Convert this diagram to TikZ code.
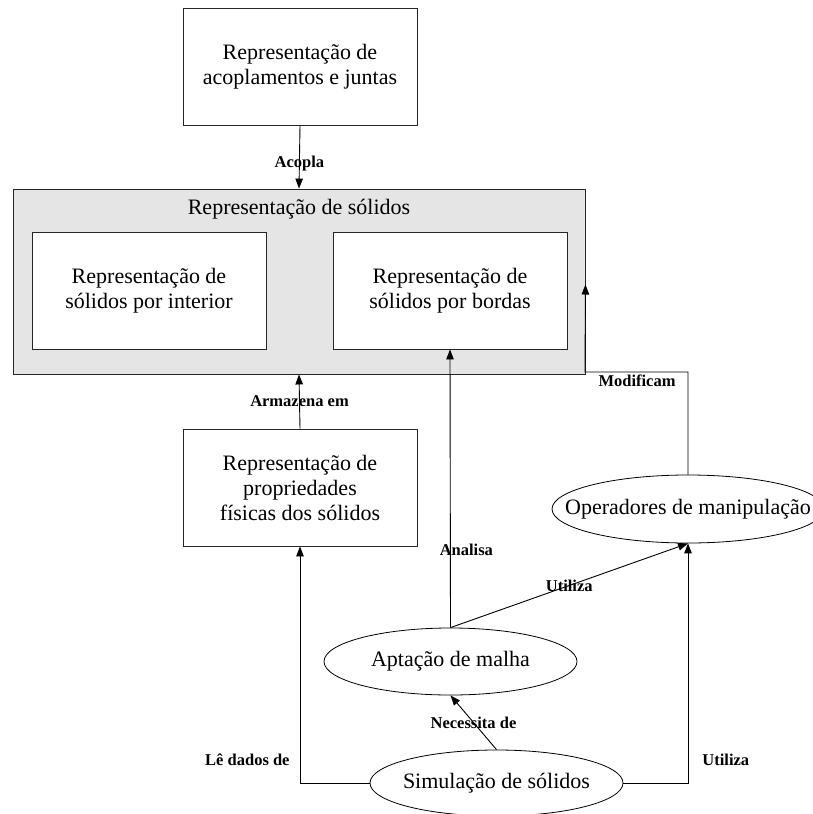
\documentclass[tikz,border=0pt]{standalone}
\usepackage{fontspec}
\setmainfont{Liberation Serif}
\usetikzlibrary{arrows.meta,shapes.geometric}
\begin{document}
\begin{tikzpicture}[x=1pt,y=-1pt,
  box/.style={draw=black!85, line width=0.9pt, fill=white, minimum width=234pt, minimum height=117pt, inner sep=0pt, align=center, font=\fontsize{22}{25}\selectfont},
  grp/.style={draw=black!85, line width=0.9pt, fill=black!10, minimum width=572pt, minimum height=185pt, inner sep=0pt},
  ell/.style={draw=black, line width=0.8pt, ellipse, fill=white, inner sep=0pt},
  txt/.style={font=\fontsize{22}{25}\selectfont, inner sep=0pt},
  lbl/.style={font=\fontsize{16.5}{18}\selectfont\bfseries, inner sep=0pt},
  arr/.style={draw=black, line width=0.9pt, -{Triangle[length=10pt,width=7.5pt]}},
  con/.style={draw=black, line width=0.9pt}]
\useasboundingbox (0,0) rectangle (813,814);
% nodes
\node[box] (acop) at (300,66.5) {Representação de\\acoplamentos e juntas};
\node[grp] (solid) at (299,281.5) {};
\node[txt] (soltitle) at (299,209) {Representação de sólidos};
\node[box] (inter) at (149,290.5) {Representação de\\sólidos por interior};
\node[box] (bord) at (450,290.5) {Representação de\\sólidos por bordas};
\node[box] (prop) at (300,487.5) {Representação de\\propriedades\\físicas dos sólidos};
\node[ell, minimum width=272pt, minimum height=68pt, label={[txt]center:Operadores de manipulação}] (op) at (688,509) {};
\node[ell, minimum width=253pt, minimum height=67pt, label={[txt]center:Aptação de malha}] (apt) at (450.5,661.5) {};
\node[ell, minimum width=253pt, minimum height=66pt, label={[txt]center:Simulação de sólidos}] (sim) at (496.5,783) {};
\coordinate (mcorner) at (585,372);
% connectors
\draw[arr] (acop.south) -- (solid.north) node[lbl, pos=0.6] {Acopla};
\draw[arr] (prop.north) -- (solid.south) node[lbl, midway] {Armazena em};
\draw[arr] (apt.north) -- (bord.south) node[lbl, pos=0.28, xshift=16pt] {Analisa};
\draw[arr] (apt.north) -- (op.south) node[lbl, midway] {Utiliza};
\draw[arr] (op.north) |- (mcorner) -- ([yshift=-3pt]solid.east);
\node[lbl] (modlbl) at (637,381) {Modificam};
\draw[arr] (sim.north) -- (apt.south) node[lbl, midway] {Necessita de};
\draw[arr] (sim.west) -| (prop.south) node[lbl, pos=0.549, anchor=east, xshift=-10pt] {Lê dados de};
\draw[arr] (sim.east) -| (op.south) node[lbl, pos=0.548, anchor=west, xshift=14pt] {Utiliza};
\end{tikzpicture}
\end{document}
